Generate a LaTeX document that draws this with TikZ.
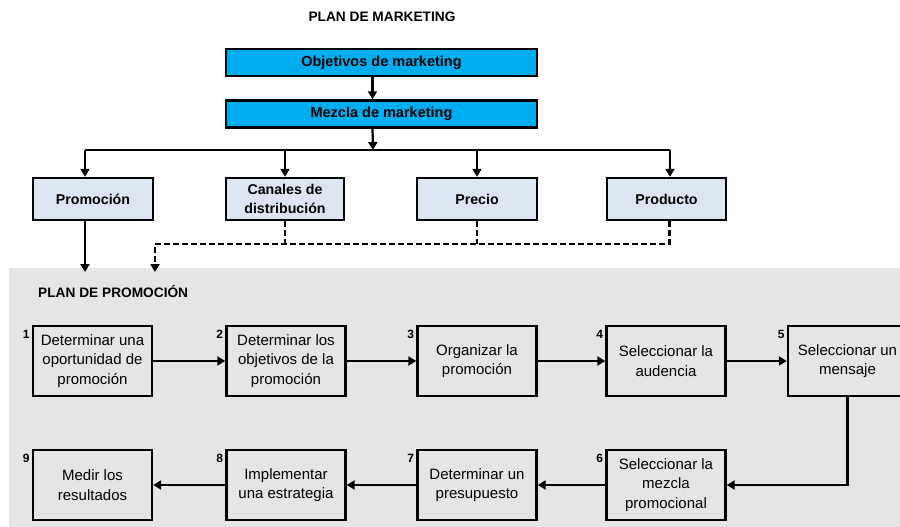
\documentclass[tikz,border=0pt]{standalone}
\usepackage{fontspec}
\setmainfont{Liberation Sans}
\usetikzlibrary{arrows.meta}
\definecolor{cyanbox}{HTML}{00AEEF}
\definecolor{lightbox}{HTML}{DCE6F2}
\definecolor{panelgray}{HTML}{E5E5E5}
\begin{document}
\begin{tikzpicture}[x=1pt,y=-1pt,
  topbox/.style={draw, line width=2.4pt, fill=cyanbox, minimum width=311pt, minimum height=27pt, inner sep=0pt, font=\fontsize{14.5}{17}\selectfont\bfseries},
  mixbox/.style={draw, line width=2.4pt, fill=lightbox, minimum height=42pt, inner sep=0pt, align=center, font=\fontsize{14.2}{19}\selectfont\bfseries},
  stepbox/.style={draw, line width=2.4pt, minimum width=119pt, minimum height=70pt, inner sep=0pt, align=center, font=\fontsize{15}{19.5}\selectfont},
  num/.style={anchor=north east, inner sep=0pt, font=\fontsize{12}{14}\selectfont\bfseries},
  heading/.style={inner sep=0pt, font=\fontsize{13.7}{16}\selectfont\bfseries},
  link/.style={line width=2.2pt, line join=miter},
  arr/.style={line width=2.2pt, line join=miter, -{Triangle[length=8pt,width=9pt]}},
  dashlink/.style={line width=2.2pt, dash pattern=on 6pt off 3pt},
  dasharr/.style={line width=2.2pt, dash pattern=on 6pt off 3pt, -{Triangle[length=8pt,width=9pt]}}
]
\useasboundingbox (0,0) rectangle (900,527);
\clip (0,0) rectangle (900,527);
\fill[white] (0,0) rectangle (900,527);

% panel
\node[fill=panelgray, minimum width=910pt, minimum height=270pt, anchor=north west, inner sep=0pt] (panel) at (9,268) {};

% top part
\node[heading] (title) at (382,17) {PLAN DE MARKETING};
\node[topbox] (obj) at (381.5,62.5) {Objetivos de marketing};
\node[topbox] (mez) at (381.5,114) {Mezcla de marketing};

\node[mixbox, minimum width=120pt] (prom) at (93,199) {Promoción};
\node[mixbox, minimum width=118pt] (can) at (285,199) {Canales de\\distribución};
\node[mixbox, minimum width=120pt] (pre) at (477,199) {Precio};
\node[mixbox, minimum width=119pt] (pro) at (666.5,199) {Producto};

\draw[arr] ([xshift=-9pt]obj.south) -- ([xshift=-9pt]mez.north);
\coordinate (bus) at (373,150);
\coordinate (busL) at (85,150);
\coordinate (busR) at (670,150);
\draw[arr] ([xshift=-9pt]mez.south) -- (bus);
\draw[link] (busL) -- (busR);
\draw[arr] (busL) -- (busL |- prom.north);
\draw[arr] (can.north |- bus) -- (can.north);
\draw[arr] (pre.north |- bus) -- (pre.north);
\draw[arr] (busR) -- (busR |- pro.north);

\coordinate (pin1) at (85,272);
\coordinate (dj) at (155,244);
\coordinate (pin2) at (155,272);
\draw[arr] (busL |- prom.south) -- (pin1);
\draw[dashlink] (can.south) -- (can.south |- dj);
\draw[dashlink] (pre.south) -- (pre.south |- dj);
\draw[dasharr] ([xshift=3pt]pro.south) |- (dj) -- (pin2);

% promotion plan
\node[heading, anchor=west] (pp) at (38,291) {PLAN DE PROMOCIÓN};

\node[stepbox] (s1) at (92.5,361) {Determinar una\\oportunidad de\\promoción};
\node[stepbox] (s2) at (286,361) {Determinar los\\objetivos de la\\promoción};
\node[stepbox] (s3) at (477,361) {Organizar la\\promoción};
\node[stepbox] (s4) at (666,361) {Seleccionar la\\audencia};
\node[stepbox] (s5) at (847.5,361) {Seleccionar un\\mensaje};
\node[stepbox] (s6) at (666,485) {Seleccionar la\\mezcla\\promocional};
\node[stepbox] (s7) at (477,485) {Determinar un\\presupuesto};
\node[stepbox] (s8) at (286,485) {Implementar\\una estrategia};
\node[stepbox] (s9) at (92.5,485) {Medir los\\resultados};

\foreach \i in {1,...,9} {
  \node[num] (n\i) at ([xshift=-2pt,yshift=-5pt]s\i.north west) {\i};
}

\draw[arr] (s1) -- (s2);
\draw[arr] (s2) -- (s3);
\draw[arr] (s3) -- (s4);
\draw[arr] (s4) -- (s5);
\draw[arr] (s5.south) |- (s6.east);
\draw[arr] (s6) -- (s7);
\draw[arr] (s7) -- (s8);
\draw[arr] (s8) -- (s9);
\end{tikzpicture}
\end{document}
